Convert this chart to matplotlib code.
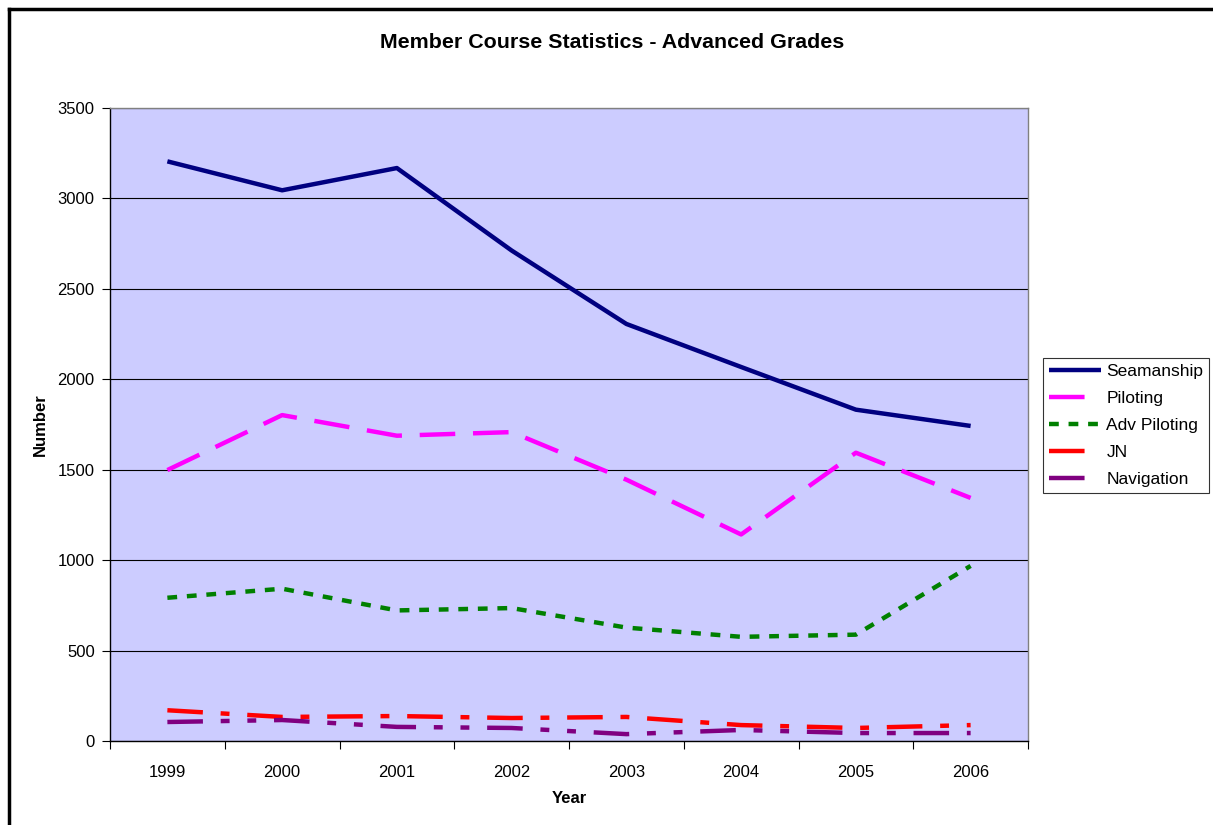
import matplotlib.pyplot as plt
from matplotlib.lines import Line2D

plt.rcParams['font.family'] = ['Liberation Sans', 'DejaVu Sans']

years = ['1999', '2000', '2001', '2002', '2003', '2004', '2005', '2006']
seamanship = [3205, 3045, 3168, 2712, 2306, 2068, 1832, 1742]
piloting = [1498, 1802, 1688, 1708, 1445, 1142, 1594, 1344]
adv_piloting = [792, 842, 722, 735, 627, 576, 588, 968]
jn = [170, 133, 138, 127, 133, 88, 72, 88]
navigation = [105, 116, 78, 72, 38, 61, 44, 44]

fig = plt.figure(figsize=(12.13, 8.25), dpi=100)
ax = fig.add_axes([110 / 1213, 84 / 825, 918 / 1213, 633 / 825])
ax.set_facecolor('#CCCCFF')

x = list(range(len(years)))
ax.plot(x, seamanship, color='#000080', lw=3.2, label='Seamanship', solid_capstyle='butt')
ax.plot(x, piloting, color='#FF00FF', lw=3.2, dashes=(8, 4), label='Piloting')
ax.plot(x, adv_piloting, color='#008000', lw=3.2, dashes=(2.2, 2.2), label='Adv Piloting')
ax.plot(x, jn, color='#FF0000', lw=3.2, dashes=(8, 4, 2, 4), label='JN')
ax.plot(x, navigation, color='#800080', lw=3.2, dashes=(8, 4, 2, 4, 2, 4), label='Navigation')

ax.set_xlim(-0.5, 7.5)
ax.set_ylim(0, 3500)
ax.set_yticks(range(0, 3501, 500))
ax.yaxis.grid(True, color='black', lw=0.8)
ax.set_axisbelow(True)

ax.set_xticks([i - 0.5 for i in range(len(years) + 1)])
ax.set_xticklabels([])
ax.set_xticks(x, minor=True)
ax.set_xticklabels(years, minor=True)
ax.tick_params(axis='x', which='minor', length=0, pad=17, labelsize=12)
ax.tick_params(axis='x', which='major', length=6, width=0.8, color='black')
ax.tick_params(axis='y', length=6, width=0.8, labelsize=12, pad=5)

for side in ['top', 'right']:
    ax.spines[side].set_color('#808080')
for side in ['left', 'bottom']:
    ax.spines[side].set_color('black')
for sp in ax.spines.values():
    sp.set_linewidth(1.0)

ax.set_xlabel('Year', fontweight='bold', fontsize=12, labelpad=8)
ax.set_ylabel('Number', fontweight='bold', fontsize=12, labelpad=7)
fig.text(612 / 1213, 1 - 43 / 825, 'Member Course Statistics - Advanced Grades',
         ha='center', va='center', fontweight='bold', fontsize=15.4)

handles, labels = ax.get_legend_handles_labels()
leg = fig.legend(handles, labels, loc='upper left',
                 bbox_to_anchor=(1043 / 1213, 1 - 358 / 825),
                 frameon=True, fancybox=False, fontsize=12.5,
                 borderpad=0.35, labelspacing=0.68, handlelength=3.0,
                 handletextpad=0.3, borderaxespad=0)
leg.get_frame().set_edgecolor('black')
leg.get_frame().set_linewidth(0.8)

# outer chart border (left and top edges visible)
fig.add_artist(Line2D([9 / 1213, 9 / 1213], [0, 1 - 9 / 825], color='black', lw=2.5,
                      transform=fig.transFigure))
fig.add_artist(Line2D([9 / 1213, 1], [1 - 9 / 825, 1 - 9 / 825], color='black', lw=2.5,
                      transform=fig.transFigure))

fig.savefig('out.png', dpi=100)
